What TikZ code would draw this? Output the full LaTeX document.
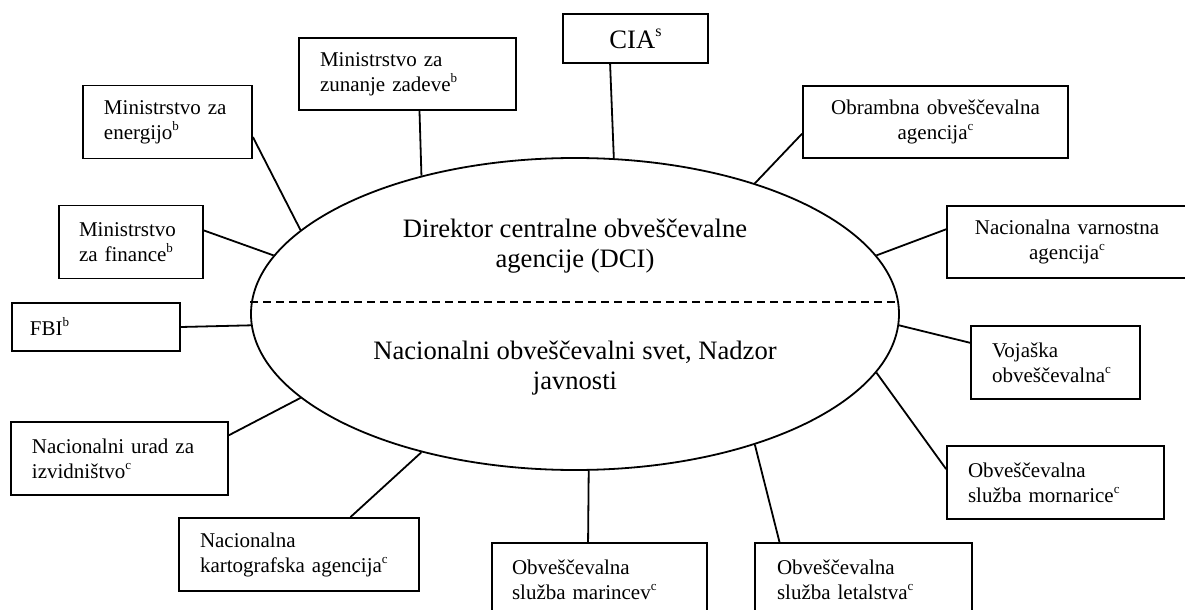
\documentclass[tikz,border=0pt]{standalone}
\usepackage{fontspec}
\setmainfont{Liberation Serif}
\usetikzlibrary{shapes.geometric}
\newcommand\fnote[1]{\raisebox{4.5pt}{\fontsize{6.5}{6.5}\selectfont #1}}
\newcommand\bignote[1]{\raisebox{6pt}{\fontsize{8}{8}\selectfont #1}}
\tikzset{
  hub/.style={ellipse, draw, line width=0.9pt, minimum width=324pt, minimum height=156pt, inner sep=0pt},
  hubtext/.style={align=center, inner sep=0pt, font=\fontsize{13.3}{15}\selectfont},
  unit/.style={rectangle, draw, line width=0.9pt, inner sep=0pt, minimum height=36.5pt, align=left, font=\fontsize{10.5}{12.5}\selectfont},
  link/.style={line width=0.9pt},
}
\begin{document}
\begin{tikzpicture}[x=0.5pt, y=-0.5pt]
\useasboundingbox (0,0) rectangle (1185,610);
\clip (0,0) rectangle (1185,610);
\node[hub] (dci) at (575,314) {};
\draw[link, dash pattern=on 4pt off 2.5pt] ([yshift=6pt]dci.west) -- ([yshift=6pt]dci.east);
\node[hubtext] (dcitext) at (575,246) {Direktor centralne obveščevalne\\agencije (DCI)};
\node[hubtext] (nictext) at (575,368) {Nacionalni obveščevalni svet, Nadzor\\javnosti};

\node[unit, minimum width=84.5pt, text width=63.5pt] (energy) at (167.5,122) {Ministrstvo za\\energijo\fnote{b}};
\node[unit, minimum width=72pt, text width=52pt] (finance) at (131,242) {Ministrstvo\\za finance\fnote{b}};
\node[unit, minimum width=84pt, minimum height=24pt, text width=66pt] (fbi) at (96,327) {FBI\fnote{b}};
\node[unit, minimum width=108.5pt, minimum height=36pt, text width=87.5pt] (foreign) at (407.5,74) {Ministrstvo za\\zunanje zadeve\fnote{b}};
\node[unit, minimum width=72.5pt, minimum height=24.5pt, align=center, font=\fontsize{13.3}{15}\selectfont] (cia) at (635.5,38.5) {CIA\bignote{s}};
\node[unit, minimum width=132.5pt, minimum height=36pt, text width=120pt, align=center] (defence) at (935.5,122) {Obrambna obveščevalna\\agencija\fnote{c}};
\node[unit, minimum width=120pt, minimum height=36pt, text width=110pt, align=center] (nsa) at (1067,242) {Nacionalna varnostna\\agencija\fnote{c}};
\node[unit, minimum width=84.5pt, text width=63.5pt] (army) at (1055.5,362.5) {Vojaška\\obveščevalna\fnote{c}};
\node[unit, minimum width=108.5pt, text width=87.5pt] (navy) at (1055.5,482.5) {Obveščevalna\\služba mornarice\fnote{c}};
\node[unit, minimum width=108.5pt, text width=86.5pt] (airforce) at (863.5,579.5) {Obveščevalna\\služba letalstva\fnote{c}};
\node[unit, minimum width=107.5pt, text width=87.5pt] (marines) at (599.5,579.5) {Obveščevalna\\služba marincev\fnote{c}};
\node[unit, minimum width=120pt, text width=99pt] (nga) at (299,554.5) {Nacionalna\\kartografska agencija\fnote{c}};
\node[unit, minimum width=108.5pt, text width=87.5pt] (nro) at (119.5,458.5) {Nacionalni urad za\\izvidništvo\fnote{c}};

\draw[link] (energy.-10) -- (dci.163);
\draw[link] (finance.9) -- (dci.169);
\draw[link] (fbi.east) -- (dci.182);
\draw[link] (foreign.-72) -- (dci.138.8);
\draw[link] (cia.-135) -- (dci.76.9);
\draw[link] (defence.185.6) -- (dci.36);
\draw[link] (nsa.174.8) -- (dci.11.3);
\draw[link] (army.167) -- (dci.-2.3);
\draw[link] (navy.173.4) -- (dci.-11.5);
\draw[link] (airforce.156.4) -- (dci.-36.3);
\draw[link] (marines.107.5) -- (dci.-85.2);
\draw[link] (nga.36.7) -- (dci.-138.8);
\draw[link] (nro.12.2) -- (dci.-163);
\end{tikzpicture}
\end{document}
